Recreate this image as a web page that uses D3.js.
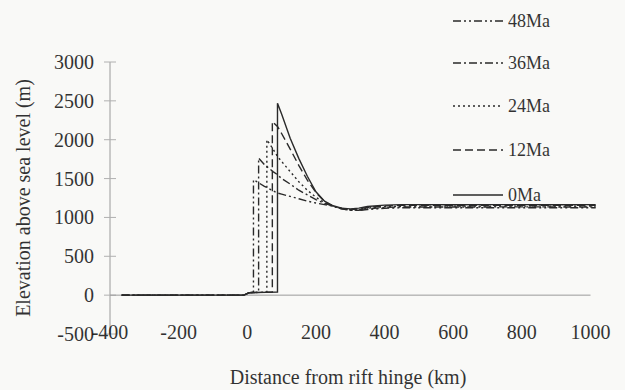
<!DOCTYPE html>
<html><head><meta charset="utf-8">
<script src="https://cdn.jsdelivr.net/npm/d3@7"></script>
</head><body style="margin:0;background:#f9f9f7">
<svg id="c" width="625" height="390"></svg>
<script>
// Data: [distance km, elevation m]
const seriesNames = ["48Ma","36Ma","24Ma","12Ma","0Ma"];
const xTicks = [-400,-200,0,200,400,600,800,1000];
const yTicks = [-500,0,500,1000,1500,2000,2500,3000];

const age0 = [[-366,0],[-10,0],[5,30],[88,40],[88,2470],[100,2330],[125,2020],[150,1760],[175,1530],[200,1330],[225,1210],[250,1150],[275,1120],[300,1110],[325,1120],[350,1140],[400,1158],[450,1165],[500,1165],[600,1163],[700,1165],[800,1165],[900,1164],[1015,1165]];
const age12 = [[-366,0],[-10,0],[5,30],[73,40],[73,2234],[88,2170],[100,2080],[125,1880],[150,1670],[175,1480],[200,1320],[225,1205],[250,1145],[275,1112],[300,1100],[325,1110],[350,1130],[400,1148],[450,1155],[500,1155],[600,1154],[700,1155],[800,1155],[900,1155],[1015,1155]];
const age24 = [[-366,0],[-10,0],[5,30],[57,40],[57,1999],[75,1880],[88,1785],[100,1720],[125,1590],[150,1460],[175,1350],[200,1260],[225,1190],[250,1145],[275,1110],[300,1095],[325,1100],[350,1120],[400,1138],[450,1145],[500,1145],[600,1145],[700,1146],[800,1145],[900,1145],[1015,1145]];
const age36 = [[-366,0],[-10,0],[5,30],[33,40],[33,1764],[50,1680],[75,1590],[88,1550],[100,1500],[125,1430],[150,1350],[175,1290],[200,1230],[225,1180],[250,1145],[275,1112],[300,1092],[325,1092],[350,1110],[400,1128],[450,1135],[500,1135],[600,1135],[700,1135],[800,1136],[900,1135],[1015,1135]];
const age48 = [[-366,0],[-10,0],[5,30],[18,40],[18,1485],[50,1400],[88,1314],[100,1300],[125,1270],[150,1240],[175,1210],[200,1185],[225,1165],[250,1145],[275,1118],[300,1095],[325,1090],[350,1102],[400,1118],[450,1125],[500,1125],[600,1125],[700,1125],[800,1125],[900,1125],[1015,1125]];

const seriesData = [age48, age36, age24, age12, age0];
const dashes = ["8,3,2,3,2,3","8,3,2,3","2,3","8,4",null];

const svg = d3.select("#c");
const x = d3.scaleLinear().domain([-400,1000]).range([110,590.5]);
const y = d3.scaleLinear().domain([-500,3000]).range([334,62]);

function addText(px, py, str, size, anchor, transform){
  const t = svg.append("text").attr("x",px).attr("y",py).style("font-family","Liberation Serif")
    .attr("font-size",size).attr("opacity",0.8);
  if (anchor) t.attr("text-anchor",anchor);
  if (transform) t.attr("transform",transform);
  t.text(str);
  return t;
}

// y axis
svg.append("line").attr("x1",x(-400)).attr("x2",x(-400)).attr("y1",y(3000)).attr("y2",y(-500))
  .attr("stroke","#9a9a9a").attr("stroke-width",1);
yTicks.forEach(t=>{
  svg.append("line").attr("x1",x(-400)-6).attr("x2",x(-400)+6).attr("y1",y(t)).attr("y2",y(t))
    .attr("stroke","#b0b0b0").attr("stroke-width",1);
  addText(94, y(t)+7, String(t), 20, "end");
});
// x axis at y=0
svg.append("line").attr("x1",x(-400)).attr("x2",x(1000)).attr("y1",y(0)).attr("y2",y(0))
  .attr("stroke","#9a9a9a").attr("stroke-width",1);
xTicks.forEach(t=>{
  addText(x(t), 339, String(t), 20, "middle");
});

// titles
addText(348, 384, "Distance from rift hinge (km)", 20, "middle");
addText(0, 0, "Elevation above sea level (m)", 20, "middle", "translate(30,198) rotate(-90)");

// lines
const line = d3.line().x(d=>x(d[0])).y(d=>y(d[1]));
seriesData.forEach((s,i)=>{
  svg.append("path").datum(s).attr("d",line).attr("fill","none")
    .attr("stroke","#2a2a2a").attr("stroke-width",1.4)
    .attr("stroke-dasharray",dashes[i]);
});

// legend
const legY = [21,63,106,150,195];
seriesNames.forEach((n,i)=>{
  svg.append("line").attr("x1",453).attr("x2",503).attr("y1",legY[i]).attr("y2",legY[i])
    .attr("stroke","#2a2a2a").attr("stroke-width",1.4).attr("stroke-dasharray",dashes[i]);
  addText(508, legY[i]+6, n, 18);
});
</script>
</body></html>
